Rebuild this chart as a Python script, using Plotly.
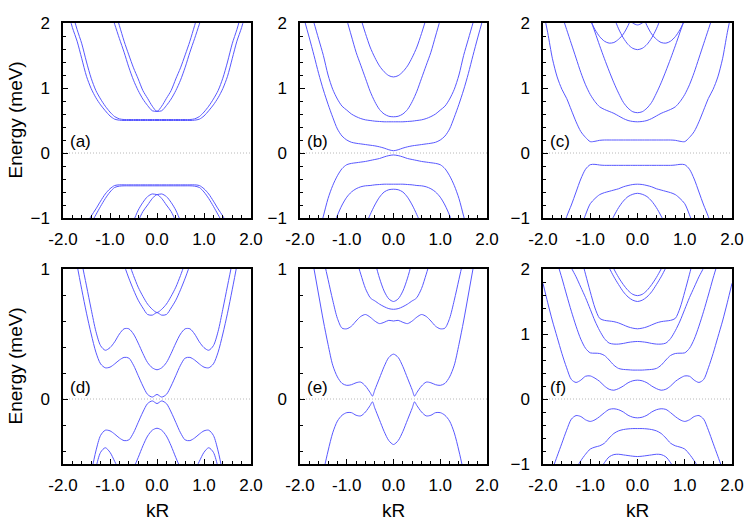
import plotly.graph_objects as go

# half-grids of kR (bands are even in kR)
K = [0.0, 0.1, 0.2, 0.3, 0.4, 0.5, 0.6, 0.7, 0.8, 0.9, 1.0,
     1.1, 1.2, 1.3, 1.4, 1.5, 1.6, 1.7, 1.8, 1.9, 2.0]
K_E = [0.0, 0.1, 0.2, 0.3, 0.4, 0.45, 0.5, 0.6, 0.7, 0.8, 0.9, 1.0,
       1.1, 1.2, 1.3, 1.4, 1.5, 1.6, 1.7, 1.8]

# ---------- panel (a) ----------
a_out1 = [0.5, 0.5, 0.5, 0.5, 0.5, 0.5, 0.5, 0.5, 0.505, 0.52, 0.57, 0.65, 0.74, 0.85, 0.99, 1.18, 1.45, 1.72, 1.93, 2.2, 2.5]
a_out2 = [0.515, 0.515, 0.515, 0.515, 0.515, 0.515, 0.515, 0.515, 0.525, 0.56, 0.63, 0.72, 0.83, 0.96, 1.15, 1.4, 1.68, 1.9, 2.15, 2.4, 2.7]
a_in1 = [0.64, 0.65, 0.73, 0.83, 0.96, 1.12, 1.32, 1.55, 1.76, 1.98, 2.2]
a_in2 = [0.64, 0.72, 0.84, 0.96, 1.14, 1.31, 1.51, 1.72, 1.96, 2.2]
a_lo1 = [-0.49, -0.49, -0.49, -0.49, -0.49, -0.49, -0.49, -0.49, -0.49, -0.5, -0.55, -0.63, -0.74, -0.86, -0.97, -1.1, -1.25]
a_lo2 = [-0.505, -0.505, -0.505, -0.505, -0.505, -0.505, -0.505, -0.505, -0.51, -0.53, -0.6, -0.7, -0.82, -0.95, -1.08, -1.25]
a_li1 = [-0.64, -0.63, -0.67, -0.76, -0.88, -1.05, -1.25]
a_li2 = [-0.64, -0.7, -0.8, -0.9, -1.05, -1.22]

# ---------- panel (b) ----------
b_p1 = [0.035, 0.05, 0.075, 0.095, 0.11, 0.12, 0.13, 0.14, 0.15, 0.165, 0.2, 0.26, 0.37, 0.55, 0.75, 0.97, 1.22, 1.5, 1.77, 2.03, 2.3]
b_p2 = [0.48, 0.48, 0.48, 0.485, 0.49, 0.5, 0.51, 0.53, 0.56, 0.6, 0.66, 0.72, 0.83, 0.98, 1.2, 1.5, 1.75, 2.0, 2.25]
b_p3 = [0.557, 0.565, 0.6, 0.67, 0.79, 0.95, 1.15, 1.35, 1.55, 1.8, 2.05, 2.3]
b_p4 = [1.17, 1.19, 1.25, 1.34, 1.47, 1.63, 1.84, 2.07, 2.3]
b_n1 = [-0.03, -0.04, -0.06, -0.085, -0.1, -0.115, -0.13, -0.14, -0.15, -0.16, -0.18, -0.24, -0.35, -0.5, -0.7, -0.97, -1.25]
b_n2 = [-0.48, -0.48, -0.48, -0.485, -0.49, -0.5, -0.505, -0.52, -0.55, -0.6, -0.68, -0.8, -0.96, -1.15]
b_n3 = [-0.557, -0.565, -0.6, -0.68, -0.8, -0.95, -1.12]

# ---------- panel (c) ----------
c_p1 = [0.2, 0.2, 0.2, 0.2, 0.2, 0.2, 0.2, 0.2, 0.195, 0.18, 0.175, 0.24, 0.33, 0.48, 0.66, 0.84, 0.98, 1.17, 1.45, 1.85, 2.2]
c_p2 = [0.48, 0.485, 0.5, 0.53, 0.57, 0.61, 0.64, 0.67, 0.71, 0.79, 0.9, 1.05, 1.24, 1.46, 1.68, 1.9, 2.12]
c_p3 = [0.62, 0.635, 0.69, 0.78, 0.92, 1.08, 1.26, 1.45, 1.65, 1.86, 2.07, 2.3]
c_p4 = [1.59, 1.61, 1.67, 1.77, 1.91, 2.09, 2.3]
c_p5 = [2.32, 2.13, 1.96, 1.83, 1.75, 1.7, 1.69, 1.72, 1.79, 1.9, 2.05, 2.25]
c_p6 = [1.97, 2.0, 2.08, 2.2]
c_n1 = [-0.19, -0.19, -0.19, -0.19, -0.19, -0.19, -0.19, -0.19, -0.185, -0.175, -0.18, -0.25, -0.4, -0.6, -0.8, -0.98, -1.2]
c_n2 = [-0.48, -0.485, -0.5, -0.52, -0.55, -0.57, -0.59, -0.61, -0.64, -0.7, -0.78, -0.95, -1.15]
c_n3 = [-0.62, -0.635, -0.67, -0.74, -0.84, -0.97, -1.12]

# ---------- panel (d) ----------
d_p1 = [0.035, 0.015, 0.035, 0.1, 0.18, 0.26, 0.315, 0.32, 0.3, 0.27, 0.245, 0.24, 0.27, 0.36, 0.5, 0.66, 0.84, 1.03, 1.25]
d_p2 = [0.225, 0.24, 0.28, 0.35, 0.43, 0.5, 0.54, 0.54, 0.5, 0.44, 0.395, 0.375, 0.41, 0.52, 0.69, 0.87, 1.05, 1.25]
d_p3 = [0.665, 0.645, 0.65, 0.7, 0.76, 0.84, 0.93, 1.03]
d_p4 = [0.665, 0.69, 0.73, 0.79, 0.86, 0.95, 1.05]
d_n1 = [-0.035, -0.015, -0.035, -0.1, -0.18, -0.26, -0.315, -0.32, -0.3, -0.27, -0.245, -0.24, -0.28, -0.4, -0.57]
d_n2 = [-0.225, -0.24, -0.285, -0.36, -0.45, -0.53, -0.58, -0.59, -0.55, -0.48, -0.41, -0.375, -0.41, -0.53, -0.7]

# ---------- panel (e) (grid K_E) ----------
e_p1 = [0.345, 0.32, 0.25, 0.16, 0.07, 0.022, 0.05, 0.1, 0.13, 0.125, 0.11, 0.105, 0.12, 0.17, 0.26, 0.42, 0.6, 0.8, 1.0, 1.2]
e_p2 = [0.6, 0.605, 0.59, 0.58, 0.6, 0.615, 0.63, 0.65, 0.635, 0.6, 0.56, 0.54, 0.545, 0.62, 0.76, 0.92, 1.08]
e_p3 = [0.69, 0.695, 0.71, 0.73, 0.755, 0.765, 0.78, 0.85, 0.96, 1.08]
e_p4 = [0.75, 0.77, 0.83, 0.93, 1.06]
e_n1 = [-0.35, -0.32, -0.25, -0.16, -0.07, -0.022, -0.05, -0.1, -0.13, -0.125, -0.105, -0.105, -0.125, -0.17, -0.26, -0.4, -0.56]

# ---------- panel (f) ----------
f_p1 = [0.29, 0.28, 0.25, 0.2, 0.16, 0.135, 0.15, 0.2, 0.27, 0.32, 0.355, 0.35, 0.29, 0.255, 0.3, 0.48, 0.7, 0.95, 1.2, 1.48, 1.78]
f_p2 = [0.445, 0.445, 0.45, 0.455, 0.47, 0.52, 0.6, 0.67, 0.7, 0.705, 0.71, 0.78, 0.92, 1.12, 1.35, 1.6, 1.86, 2.1]
f_p3 = [0.885, 0.88, 0.87, 0.855, 0.845, 0.845, 0.86, 0.93, 1.05, 1.2, 1.38, 1.56, 1.72, 1.88, 2.02, 2.2]
f_p4 = [1.08, 1.09, 1.11, 1.14, 1.17, 1.19, 1.2, 1.21, 1.24, 1.4, 1.65, 1.92, 2.2]
f_p5 = [1.5, 1.52, 1.57, 1.65, 1.76, 1.88, 2.02, 2.17]
f_p6 = [1.59, 1.61, 1.67, 1.76, 1.87, 2.0, 2.15]
f_n1 = [-0.29, -0.28, -0.25, -0.2, -0.165, -0.15, -0.16, -0.21, -0.27, -0.32, -0.345, -0.32, -0.27, -0.255, -0.31, -0.48, -0.68, -0.88, -1.08]
f_n2 = [-0.455, -0.455, -0.46, -0.47, -0.49, -0.53, -0.6, -0.68, -0.72, -0.74, -0.77, -0.85, -0.95, -1.07]
f_n3 = [-0.885, -0.88, -0.87, -0.86, -0.85, -0.855, -0.89, -0.98, -1.1]

panel_labels = ["(a)", "(b)", "(c)", "(d)", "(e)", "(f)"]
panel_bands = [
    (K, [a_out1, a_out2, a_in1, a_in2, a_lo1, a_lo2, a_li1, a_li2]),
    (K, [b_p1, b_p2, b_p3, b_p4, b_n1, b_n2, b_n3]),
    (K, [c_p1, c_p2, c_p3, c_p4, c_p5, c_p6, c_n1, c_n2, c_n3]),
    (K, [d_p1, d_p2, d_p3, d_p4, d_n1, d_n2]),
    (K_E, [e_p1, e_p2, e_p3, e_p4, e_n1]),
    (K, [f_p1, f_p2, f_p3, f_p4, f_p5, f_p6, f_n1, f_n2, f_n3]),
]
y_ranges = [[-1, 2], [-1, 2], [-1, 2], [-0.5, 1], [-0.5, 1], [-1, 2]]
x_ticks = [-2, -1, 0, 1, 2]
x_ticktext = ["-2.0", "-1.0", "0.0", "1.0", "2.0"]

W, H = 750, 525
cols_px = [(63, 251), (300, 487), (543, 732)]
rows_px = [(23, 218), (269, 464)]

LINE = "rgb(88,88,255)"
FONT = "Liberation Sans, Arial, Helvetica, sans-serif"


def mirror(kh, eh):
    ks = kh[:len(eh)]
    xs = [-k for k in ks[::-1]] + ks[1:]
    ys = eh[::-1] + eh[1:]
    return xs, ys


fig = go.Figure()
layout = dict(width=W, height=H, margin=dict(l=0, r=0, t=0, b=0, pad=0, autoexpand=False),
              paper_bgcolor="white", plot_bgcolor="white", showlegend=False,
              font=dict(family=FONT, size=17, color="black"))
annotations = []

for i in range(6):
    r, c = divmod(i, 3)
    sfx = "" if i == 0 else str(i + 1)
    xa, ya = "x" + sfx, "y" + sfx
    kh, bands = panel_bands[i]
    for band in bands:
        xs, ys = mirror(kh, band)
        fig.add_trace(go.Scatter(x=xs, y=ys, mode="lines", xaxis=xa, yaxis=ya,
                                 line=dict(color=LINE, width=1, shape="spline", smoothing=0.8),
                                 hoverinfo="skip"))
    fig.add_trace(go.Scatter(x=[-2, 2], y=[0, 0], mode="lines", xaxis=xa, yaxis=ya,
                             line=dict(color="#b8b8b8", width=1, dash="1px,2px"), hoverinfo="skip"))
    x0, x1 = cols_px[c]
    y0, y1 = rows_px[r]
    common = dict(showline=True, linecolor="black", linewidth=1.5, mirror=True, automargin=False,
                  showgrid=False, zeroline=False, ticks="inside", ticklen=5,
                  tickcolor="black", tickfont=dict(family=FONT, size=17, color="black"),
                  minor=dict(ticks="inside", ticklen=3, dtick=0.2, tick0=0, tickcolor="black", showgrid=False))
    layout["xaxis" + sfx] = dict(common, domain=[x0 / W, x1 / W], range=[-2, 2],
                                 anchor=ya, tickvals=x_ticks, ticktext=x_ticktext,
                                 ticklabelstandoff=5)
    layout["yaxis" + sfx] = dict(common, domain=[1 - y1 / H, 1 - y0 / H], range=y_ranges[i],
                                 anchor=xa, dtick=1, tick0=0, ticklabelstandoff=8)
    annotations.append(dict(x=-2, y=0, xref=xa, yref=ya, text=panel_labels[i],
                            showarrow=False, xanchor="left", yanchor="middle",
                            xshift=5, yshift=12, font=dict(family=FONT, size=17, color="black")))

for r in range(2):
    y0, y1 = rows_px[r]
    annotations.append(dict(x=15 / W, y=1 - (y0 + y1) / 2 / H, xref="paper", yref="paper",
                            text="Energy (meV)", textangle=-90, showarrow=False,
                            xanchor="center", yanchor="middle",
                            font=dict(family=FONT, size=19, color="black")))
for c in range(3):
    x0, x1 = cols_px[c]
    annotations.append(dict(x=(x0 + x1) / 2 / W, y=1 - 510 / H, xref="paper", yref="paper",
                            text="kR", showarrow=False, xanchor="center", yanchor="middle",
                            font=dict(family=FONT, size=19, color="black")))

layout["annotations"] = annotations
fig.update_layout(**layout)
fig.write_html("out.html")
